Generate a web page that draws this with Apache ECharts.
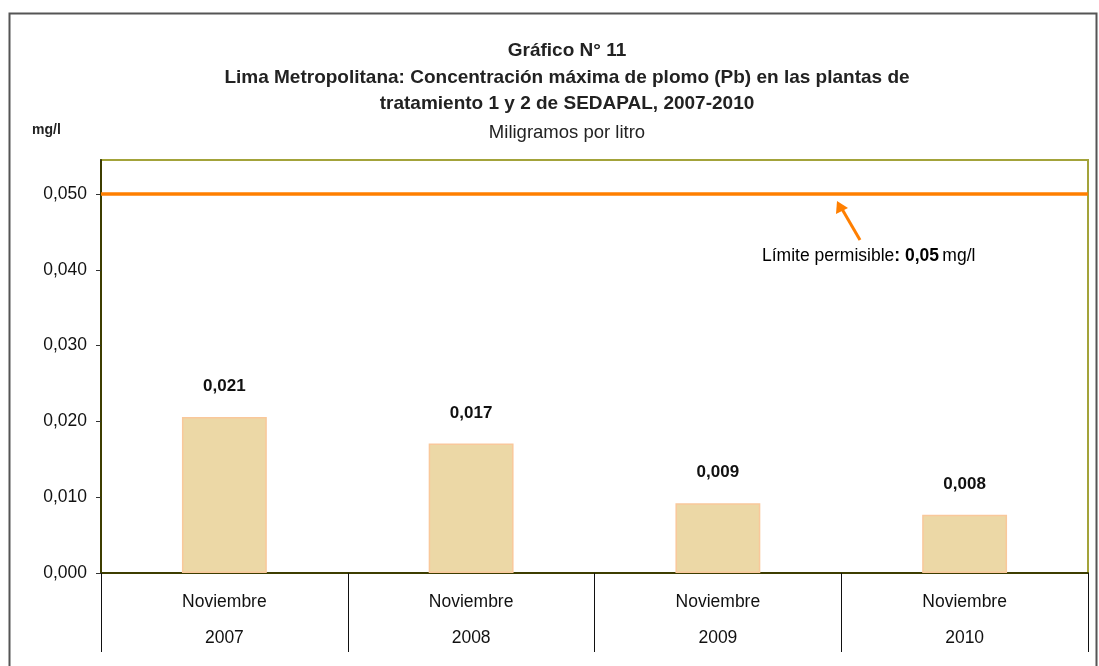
<!DOCTYPE html>
<html>
<head>
<meta charset="utf-8">
<script src="https://cdn.jsdelivr.net/npm/echarts@6/dist/echarts.min.js"></script>
<style>
html, body { margin: 0; padding: 0; background: #fff; }
#chart { width: 1099px; height: 666px; }
</style>
</head>
<body>
<div id="chart"></div>
<script>
var meses = ['Noviembre', 'Noviembre', 'Noviembre', 'Noviembre'];
var anios = ['2007', '2008', '2009', '2010'];
var valores = [0.0206, 0.0171, 0.0092, 0.0077];
var limite = 0.05;
var yTicks = [0, 0.01, 0.02, 0.03, 0.04, 0.05];

var categorias = meses.map(function (m, i) { return m + '\n' + anios[i]; });

var myChart = echarts.init(document.getElementById('chart'));

var fuente = "'Liberation Sans', Arial, sans-serif";

function formatNum(v, d) {
    return v.toFixed(d).replace('.', ',');
}

var option = {
    animation: false,
    textStyle: { fontFamily: fuente },
    grid: { left: 101, top: 160, right: 11, bottom: 93, show: true, borderColor: '#a3a33a', borderWidth: 2 },
    title: [
        {
            text: 'Gráfico N° 11\nLima Metropolitana: Concentración máxima de plomo (Pb) en las plantas de\ntratamiento 1 y 2 de SEDAPAL, 2007-2010',
            left: 562, top: 33,
            textAlign: 'center',
            textStyle: { fontSize: 19, fontWeight: 'bold', color: '#222', lineHeight: 26.5 }
        },
        {
            text: 'Miligramos por litro',
            left: 562, top: 117,
            textAlign: 'center',
            textStyle: { fontSize: 18.5, fontWeight: 'normal', color: '#222', lineHeight: 22 }
        },
        {
            text: 'mg/l',
            left: 27, top: 117,
            textStyle: { fontSize: 14, fontWeight: 'bold', color: '#222', lineHeight: 16 }
        }
    ],
    xAxis: {
        type: 'category',
        data: categorias,
        axisLine: { lineStyle: { color: '#3d3d00', width: 2 } },
        axisTick: { show: true, length: 79, lineStyle: { color: '#111', width: 1 } },
        axisLabel: { fontSize: 17.5, color: '#111', lineHeight: 36, margin: 11 }
    },
    yAxis: {
        type: 'value',
        min: 0, max: 0.0545, interval: 0.01,
        splitLine: { show: false },
        axisLine: { show: true, lineStyle: { color: '#3d3d00', width: 2 } },
        axisTick: { show: true, length: 5, lineStyle: { color: '#333' } },
        axisLabel: {
            fontSize: 17.5, color: '#111', margin: 14,
            formatter: function (v) {
                for (var i = 0; i < yTicks.length; i++) {
                    if (Math.abs(v - yTicks[i]) < 1e-9) return formatNum(yTicks[i], 3);
                }
                return '';
            }
        }
    },
    series: [
        {
            type: 'bar',
            data: valores,
            barWidth: '34.4%',
            itemStyle: { color: '#ecd8a6', borderColor: '#f9c89b', borderWidth: 1.5 },
            label: {
                show: true, position: 'top', distance: 22,
                fontSize: 17, fontWeight: 'bold', color: '#111',
                formatter: function (p) { return formatNum(p.value, 3); }
            },
            markLine: {
                silent: true,
                symbol: ['none', 'none'],
                label: { show: false },
                lineStyle: { color: '#ff7f00', width: 3.5, type: 'solid' },
                data: [{ yAxis: limite }]
            }
        }
    ],
    graphic: [
        {
            type: 'rect', left: 7, top: 11, silent: true,
            shape: { width: 1087, height: 680 },
            style: { fill: 'none', stroke: '#555', lineWidth: 2 }
        },
        // tapa el tick del extremo superior del eje
        {
            type: 'rect', left: 92, top: 157, silent: true, z: 100,
            shape: { width: 8, height: 6 },
            style: { fill: '#fff' }
        },
        {
            type: 'line', silent: true,
            shape: { x1: 860, y1: 240, x2: 842, y2: 209 },
            style: { stroke: '#ff7f00', lineWidth: 3 }
        },
        {
            type: 'polygon', silent: true,
            shape: { points: [[837, 201], [836, 214], [848, 208]] },
            style: { fill: '#ff7f00' }
        },
        {
            type: 'text', left: 762, top: 247, silent: true,
            style: {
                text: '{n|Límite permisible}{b|: 0,05} {n|mg/l}',
                rich: {
                    n: { fontSize: 17.5, color: '#111', fontFamily: fuente },
                    b: { fontSize: 17.5, color: '#111', fontWeight: 'bold', fontFamily: fuente }
                }
            }
        }
    ]
};

myChart.setOption(option);
</script>
</body>
</html>
